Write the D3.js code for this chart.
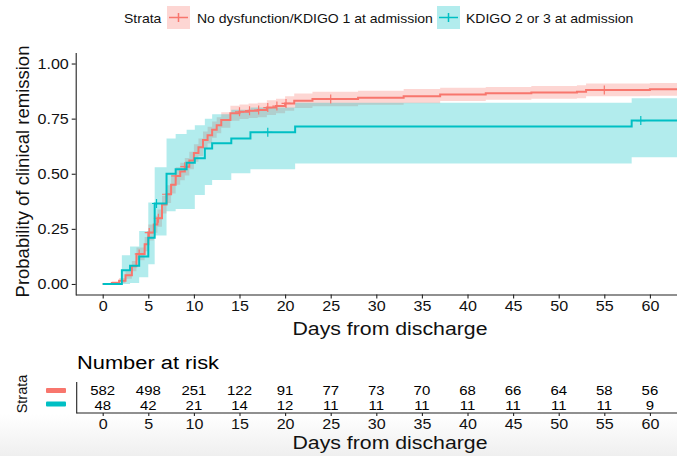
<!DOCTYPE html>
<html><head><meta charset="utf-8">
<script src="https://cdn.jsdelivr.net/npm/d3@7"></script>
<style>body{margin:0;background:#fff}svg{display:block;font-family:"Liberation Sans",Arial,sans-serif}</style>
</head><body>
<svg id="c" width="677" height="456"></svg>
<script>
// ---- data ----
const strata = ["No dysfunction/KDIGO 1 at admission", "KDIGO 2 or 3 at admission"];
const colors = ["#F8766D", "#00BFC4"];

const redTime  = [0, 1, 1.8, 2.5, 3.2, 3.7, 4.6, 5, 5.6, 6, 6.5, 7, 7.5, 8, 8.5, 9, 9.5, 10, 10.5, 11, 11.5, 12, 12.5, 13, 14, 15, 16, 17, 18, 19, 20, 21, 23, 28, 33, 37, 42, 47, 52, 53, 60];
const redSurv  = [0, 0.005, 0.015, 0.04, 0.08, 0.136, 0.18, 0.233, 0.27, 0.298, 0.36, 0.407, 0.45, 0.49, 0.51, 0.532, 0.56, 0.594, 0.62, 0.653, 0.675, 0.70, 0.72, 0.744, 0.774, 0.781, 0.786, 0.789, 0.80, 0.807, 0.819, 0.831, 0.839, 0.845, 0.852, 0.86, 0.865, 0.869, 0.872, 0.88, 0.883];
const redLower = [0, 0, 0.005, 0.024, 0.058, 0.108, 0.148, 0.197, 0.232, 0.26, 0.32, 0.367, 0.41, 0.45, 0.47, 0.492, 0.52, 0.554, 0.58, 0.614, 0.637, 0.663, 0.684, 0.709, 0.74, 0.748, 0.753, 0.756, 0.767, 0.774, 0.786, 0.798, 0.806, 0.813, 0.82, 0.83, 0.836, 0.84, 0.843, 0.851, 0.854];
const redUpper = [0, 0.012, 0.027, 0.058, 0.104, 0.166, 0.213, 0.27, 0.31, 0.338, 0.40, 0.448, 0.49, 0.53, 0.55, 0.572, 0.60, 0.634, 0.66, 0.692, 0.713, 0.737, 0.756, 0.779, 0.808, 0.814, 0.819, 0.822, 0.833, 0.84, 0.852, 0.864, 0.872, 0.877, 0.884, 0.89, 0.894, 0.898, 0.901, 0.909, 0.912];
const redEnd = 64;
const redCensor = [4, 5.1, 6.1, 7, 8, 9, 15, 16.1, 17.1, 18.1, 19.1, 20.1, 25, 55];

const tealTime  = [0, 2.1, 3, 4, 5, 5.7, 7, 8, 9.2, 10.1, 11.2, 12, 14.1, 16.2, 21.1, 58];
const tealSurv  = [0, 0.0625, 0.083, 0.125, 0.21, 0.365, 0.50, 0.52, 0.55, 0.57, 0.615, 0.638, 0.66, 0.688, 0.714, 0.741];
const tealLower = [0, 0, 0.005, 0.03, 0.09, 0.22, 0.33, 0.34, 0.34, 0.404, 0.449, 0.472, 0.502, 0.52, 0.547, 0.575];
const tealUpper = [0, 0.13, 0.17, 0.24, 0.37, 0.53, 0.66, 0.68, 0.70, 0.72, 0.75, 0.77, 0.79, 0.80, 0.822, 0.842];
const tealEnd = 64;
const tealCensor = [5.9, 18.1, 59];

const xTicks = [0, 5, 10, 15, 20, 25, 30, 35, 40, 45, 50, 55, 60];
const yTicks = [0, 0.25, 0.5, 0.75, 1];
const riskRed  = [582, 498, 251, 122, 91, 77, 73, 70, 68, 66, 64, 58, 56];
const riskTeal = [48, 42, 21, 14, 12, 11, 11, 11, 11, 11, 11, 11, 9];

// ---- drawing ----
const SX = 1.15; // horizontal text stretch of the reference
const svg = d3.select("#c");
const x = d3.scaleLinear().domain([-2.96, 62.97]).range([75.7, 677]);
const y = d3.scaleLinear().domain([-0.05, 1.05]).range([295, 52.5]);

function txt(g, px, py, s, size, anchor, fill) {
  return g.append("text").attr("transform", `translate(${px},${py}) scale(${SX},1)`)
    .attr("text-anchor", anchor || "start").attr("font-size", size).attr("fill", fill || "#000").text(s);
}

const defs = svg.append("defs");
defs.append("clipPath").attr("id", "clip").append("rect")
  .attr("x", 75.7).attr("y", 52.5).attr("width", 677 - 75.7).attr("height", 295 - 52.5);
const grad = defs.append("linearGradient").attr("id", "bg").attr("x1", 0).attr("x2", 0).attr("y1", 0).attr("y2", 1);
grad.append("stop").attr("offset", 0).attr("stop-color", "#ffffff");
grad.append("stop").attr("offset", 1).attr("stop-color", "#efefef");
svg.append("rect").attr("x", 0).attr("y", 414).attr("width", 677).attr("height", 42).attr("fill", "url(#bg)");

function build(time, surv, lo, up, end) {
  const pts = time.map((t, i) => ({t, s: surv[i], lo: lo[i], up: up[i]}));
  const last = pts[pts.length - 1];
  pts.push({t: end, s: last.s, lo: last.lo, up: last.up});
  return pts;
}
const curves = [
  {pts: build(redTime, redSurv, redLower, redUpper, redEnd), col: colors[0], cens: redCensor},
  {pts: build(tealTime, tealSurv, tealLower, tealUpper, tealEnd), col: colors[1], cens: tealCensor}
];
const plot = svg.append("g").attr("clip-path", "url(#clip)");
const area = d3.area().curve(d3.curveStepAfter).x(d => x(d.t)).y0(d => y(d.lo)).y1(d => y(d.up));
const line = d3.line().curve(d3.curveStepAfter).x(d => x(d.t)).y(d => y(d.s));
curves.forEach(c => plot.append("path").datum(c.pts).attr("d", area).attr("fill", c.col).attr("fill-opacity", 0.3));
curves.forEach(c => {
  plot.append("path").datum(c.pts).attr("d", line).attr("fill", "none").attr("stroke", c.col).attr("stroke-width", 2);
  const step = t => { let v = c.pts[0].s; c.pts.forEach(p => { if (p.t <= t) v = p.s; }); return v; };
  c.cens.forEach(t => {
    const cx = x(t), cy = y(step(t));
    plot.append("path").attr("d", `M${cx - 4.5},${cy}H${cx + 4.5}M${cx},${cy - 4.5}V${cy + 4.5}`)
      .attr("stroke", c.col).attr("stroke-width", 1.2);
  });
});

function styleAxis(g) {
  g.select(".domain").attr("stroke", "#222").attr("stroke-width", 1.1);
  g.selectAll(".tick line").attr("stroke", "#222").attr("stroke-width", 1.1);
  g.selectAll(".tick text").attr("font-size", 14).attr("fill", "#111")
    .attr("font-family", '"Liberation Sans",Arial,sans-serif');
}
const ax = svg.append("g").attr("transform", "translate(0,294.5)")
  .call(d3.axisBottom(x).tickValues(xTicks).tickSize(4).tickSizeOuter(0).tickPadding(3));
styleAxis(ax);
ax.selectAll(".tick text").attr("transform", `scale(${SX},1)`);
const ay = svg.append("g").attr("transform", "translate(75.7,0)")
  .call(d3.axisLeft(y).tickValues(yTicks).tickFormat(d3.format(".2f")).tickSize(4).tickSizeOuter(0).tickPadding(2));
styleAxis(ay);
ay.selectAll(".tick text").attr("transform", `scale(${SX},1)`);

svg.append("text").attr("transform", "translate(29,171.5) rotate(-90)").attr("text-anchor", "middle")
  .attr("font-size", 18.5).attr("fill", "#111").text("Probability of clinical remission");
txt(svg, 390, 335, "Days from discharge", 18.5, "middle", "#111");

// legend
const lg = svg.append("g");
txt(lg, 124, 23, "Strata", 12.2, "start", "#111");
const keys = [{x0: 167, lx: 197}, {x0: 437, lx: 466}];
keys.forEach((k, i) => {
  lg.append("rect").attr("x", k.x0).attr("y", 6).attr("width", 23).attr("height", 23)
    .attr("fill", colors[i]).attr("fill-opacity", 0.3);
  lg.append("path").attr("d", `M${k.x0 + 2},17.5H${k.x0 + 21}M${k.x0 + 11.5},13V22`)
    .attr("stroke", colors[i]).attr("stroke-width", 1.5);
  txt(lg, k.lx, 23, strata[i], 12.2, "start", "#111");
});

// risk table
const rt = svg.append("g");
txt(rt, 77, 369, "Number at risk", 19, "start", "#000");
[riskRed, riskTeal].forEach((arr, r) => {
  arr.forEach((n, i) => txt(rt, x(xTicks[i]), r === 0 ? 395 : 410, String(n), 13, "middle", "#000"));
});
rt.append("line").attr("x1", 76.7).attr("x2", 76.7).attr("y1", 382).attr("y2", 413.5).attr("stroke", "#222").attr("stroke-width", 1.1);
const ax2 = rt.append("g").attr("transform", "translate(0,413)")
  .call(d3.axisBottom(x).tickValues(xTicks).tickSize(3).tickSizeOuter(0).tickPadding(3));
styleAxis(ax2);
ax2.select(".domain").attr("d", `M76.7,0H677`);
ax2.selectAll(".tick text").attr("transform", `scale(${SX},1)`);
txt(rt, 390, 449, "Days from discharge", 18.5, "middle", "#111");
rt.append("rect").attr("x", 46).attr("y", 388).attr("width", 20).attr("height", 5).attr("rx", 1).attr("fill", colors[0]);
rt.append("rect").attr("x", 46).attr("y", 401.5).attr("width", 20).attr("height", 5).attr("rx", 1).attr("fill", colors[1]);
rt.append("text").attr("transform", "translate(27,394) rotate(-90)").attr("text-anchor", "middle")
  .attr("font-size", 14.5).attr("fill", "#111").text("Strata");
</script>
</body></html>
